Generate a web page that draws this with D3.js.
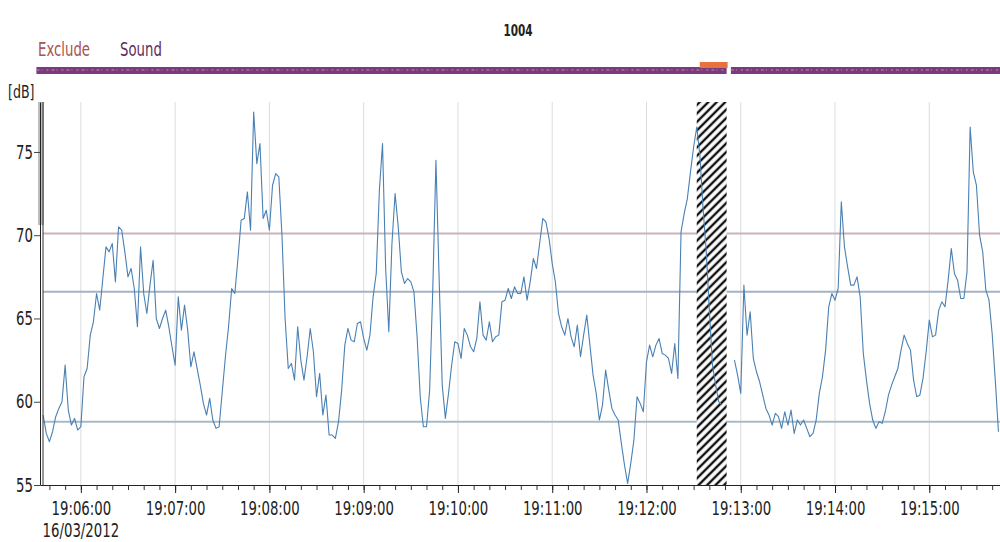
<!DOCTYPE html>
<html>
<head>
<meta charset="utf-8">
<script src="https://cdn.jsdelivr.net/npm/d3@7"></script>
<style>
  body { margin: 0; background: #fff; }
  svg { display: block; }
  text { font-family: "DejaVu Sans", "Liberation Sans", sans-serif; fill: #222; }
</style>
</head>
<body>
<svg id="chart" width="1000" height="542"></svg>
<script>
// Sound level samples [dB], one every 2 s starting at sampleStart; null = no data
const levels = [
  59.2,58.1,57.6,58.2,59.1,59.6,60,62.2,59.5,58.6,
  59,58.3,58.5,61.5,62,64,64.8,66.5,65.5,67.4,
  69.3,69,69.5,67.2,70.5,70.3,69,67.5,68,66.8,
  64.5,69.3,66.5,65.3,67,68.5,65,64.4,65,65.5,
  64.5,63.3,62.2,66.3,64.3,65.8,64.3,62.1,63,62,
  61,59.9,59.2,60.2,58.9,58.4,58.5,60.6,62.7,64.5,
  66.8,66.5,68.6,70.9,71,72.6,70.3,77.4,74.3,75.5,
  71,71.5,70.3,73,73.7,73.5,70,65,62,62.3,
  61.3,64.5,62.5,61.3,62.7,64.4,63,60.3,61.7,59.2,
  60.4,58,58,57.8,58.8,60.7,63.4,64.4,63.7,63.6,
  64.7,64.8,63.8,63.1,64,66.3,67.7,72.7,75.5,68,
  64.2,69.5,72.5,70.5,67.8,67.1,67.4,67.2,66.6,63.9,
  60.3,58.5,58.5,60.7,66.8,74.5,67.5,61,59,60.5,
  62.2,63.6,63.5,62.6,64.4,64,63.3,63,63.8,66,
  64,63.7,64.8,63.6,63.9,64,66,66.1,66.8,66.2,
  66.9,66.5,66.5,67.5,66.1,67.2,68.6,68,69.5,71,
  70.8,69.8,68.3,67.2,65.3,64.5,64,65,63.9,63.3,
  64.6,62.7,64,65.2,63.4,61.6,60.5,58.9,59.8,61.9,
  60.7,59.6,59.2,58.9,57.5,56.2,55.1,56.3,57.7,60.3,
  59.9,59.4,62.4,63.4,62.7,63.4,63.8,62.9,62.8,62.6,
  61.7,63.5,61.4,70.2,71.3,72.2,73.8,75.3,76.5,74.8,
  71.6,69.1,65.5,62.2,61,60,59.8,
  null,null,null,
  62.5,61.6,60.5,67,64,65.4,62.6,61.8,61.2,60.4,
  59.6,59.2,58.6,59.3,59.1,58.4,59.4,58.6,59.5,58.1,
  58.9,58.6,58.9,58.4,57.9,58.1,58.9,60.5,61.5,63.1,
  65.7,66.5,66.1,66.8,72,69.3,68.1,67,67,67.5,
  66.3,62.9,61.3,59.9,58.9,58.4,58.8,58.7,59.4,60.4,
  61,61.5,62,63.1,64,63.5,63.1,61.3,60.3,60.4,
  61.4,63,64.9,63.9,64,65.5,66,65.7,67.3,69.2,
  67.7,67.3,66.2,66.2,67.8,76.5,73.8,73,70,69,
  66.7,66.1,64.1,61.3,58.2
];
const sampleStart = "19:05:36";
const sampleStepSec = 2;

const viewRange = ["19:05:34", "19:15:45"];
const yDomain = [55, 78];
const yTicks = [55, 60, 65, 70, 75];
const xTickLabels = ["19:06:00","19:07:00","19:08:00","19:09:00","19:10:00",
                     "19:11:00","19:12:00","19:13:00","19:14:00","19:15:00"];
const dateLabel = "16/03/2012";
const unitLabel = "[dB]";
const title = "1004";

// Statistical reference levels drawn across the plot
const refLevels = [70.1, 66.6, 58.8];
const refColors = ["#c9b3bf", "#a3b3c4", "#a9bac6"];

// Excluded interval and the sound-coverage bar segments
const excludeSpan = ["19:12:32", "19:12:51"];
const soundSpans = [["19:05:33", "19:12:51"], ["19:12:55", "19:15:46"]];
const legendItems = ["Exclude", "Sound"];
const legendColors = ["#a85450", "#5c2e5e"];

const parse = d3.timeParse("%H:%M:%S");
const t0 = parse(sampleStart);
const series = levels.map((v, i) => ({ t: d3.timeSecond.offset(t0, i * sampleStepSec), v }));

const svg = d3.select("#chart");
const plotL = 40, plotR = 1000, plotT = 102, plotB = 485;

const x = d3.scaleTime().domain(viewRange.map(parse)).range([plotL, plotR]);
const y = d3.scaleLinear().domain(yDomain).range([plotB, plotT]);

const SX = 0.7;   // narrow lettering
function label(sel, px, py, txt, anchor, opts = {}) {
  return sel.append("text")
    .attr("transform", `translate(${px},${py}) scale(${SX},1)`)
    .attr("text-anchor", anchor)
    .style("font-size", (opts.size || 19) + "px")
    .style("font-weight", opts.weight || "normal")
    .style("fill", opts.color || "#222")
    .text(txt);
}

// Title and legend
label(svg, 518, 36, title, "middle", { size: 15, weight: "bold" });
label(svg, 38, 56, legendItems[0], "start", { color: legendColors[0] });
label(svg, 120, 56, legendItems[1], "start", { color: legendColors[1] });

// Coverage bar
const bar = svg.append("g");
soundSpans.forEach(s => {
  const x0 = x(parse(s[0])) - 2, x1 = x(parse(s[1]));
  bar.append("rect").attr("x", x0).attr("y", 67).attr("width", x1 - x0).attr("height", 7)
    .attr("fill", "#7a3b7d");
  bar.append("line").attr("x1", x0).attr("x2", x1).attr("y1", 70).attr("y2", 70)
    .attr("stroke", "#b16fae").attr("stroke-width", 2)
    .attr("stroke-dasharray", "3 2 1 4 2 3").attr("opacity", 0.7);
});
bar.append("rect")
  .attr("x", x(parse(excludeSpan[0])) + 3).attr("y", 62)
  .attr("width", x(parse(excludeSpan[1])) - x(parse(excludeSpan[0])) - 2).attr("height", 6)
  .attr("fill", "#e8713e");

// Unit label
label(svg, 8, 98, unitLabel, "start", { size: 18 });

// Minute gridlines
const majors = xTickLabels.map(parse);
svg.append("g").selectAll("line").data(majors).join("line")
  .attr("x1", d => x(d)).attr("x2", d => x(d))
  .attr("y1", plotT).attr("y2", plotB)
  .attr("stroke", "#dcdcdc").attr("stroke-width", 1);

// Reference level lines
svg.append("g").selectAll("line").data(refLevels).join("line")
  .attr("x1", plotL + 3).attr("x2", plotR)
  .attr("y1", d => y(d)).attr("y2", d => y(d))
  .attr("stroke", (d, i) => refColors[i]).attr("stroke-width", 2);

// Hatched exclusion band
const defs = svg.append("defs");
const pat = defs.append("pattern").attr("id", "hatch")
  .attr("patternUnits", "userSpaceOnUse").attr("width", 6).attr("height", 6)
  .attr("patternTransform", "rotate(45)");
pat.append("rect").attr("width", 6).attr("height", 6).attr("fill", "#fff");
pat.append("line").attr("x1", 3).attr("x2", 3).attr("y1", 0).attr("y2", 6)
  .attr("stroke", "#111").attr("stroke-width", 2.4);
svg.append("rect")
  .attr("x", x(parse(excludeSpan[0]))).attr("y", plotT)
  .attr("width", x(parse(excludeSpan[1])) - x(parse(excludeSpan[0])))
  .attr("height", plotB - plotT)
  .attr("fill", "url(#hatch)");

// Sound level trace
const line = d3.line()
  .defined(d => d.v != null)
  .x(d => x(d.t)).y(d => y(d.v));
svg.append("path").datum(series)
  .attr("d", line)
  .attr("fill", "none")
  .attr("stroke", "#4a80b3")
  .attr("stroke-width", 1.1)
  .attr("stroke-linejoin", "round");

// Left frame: shaded strip and double rule
svg.append("rect").attr("x", 38).attr("y", plotT).attr("width", 6).attr("height", 123)
  .attr("fill", "#bdbdbd");
svg.append("line").attr("x1", 43).attr("x2", 43).attr("y1", plotT).attr("y2", plotB)
  .attr("stroke", "#333").attr("stroke-width", 1);

// Y axis
const yAxis = svg.append("g").attr("transform", `translate(${plotL},0)`)
  .call(d3.axisLeft(y).tickValues(yTicks).tickSize(6).tickPadding(4).tickSizeOuter(0));
yAxis.select(".domain").attr("stroke", "#222");
yAxis.selectAll(".tick line").attr("stroke", "#444");
yAxis.selectAll(".tick text")
  .attr("transform", `scale(${SX},1)`)
  .style("font-size", "19px").style("font-family", "DejaVu Sans, sans-serif")
  .attr("fill", "#222");

// X axis: 10-second minor ticks, labelled minute ticks
const xMinor = svg.append("g").attr("transform", `translate(0,${plotB})`)
  .call(d3.axisBottom(x).ticks(d3.timeSecond.every(10)).tickSize(5).tickFormat("").tickSizeOuter(0));
xMinor.select(".domain").attr("stroke", "#222");
xMinor.selectAll(".tick line").attr("stroke", "#333");

const xAxis = svg.append("g").attr("transform", `translate(0,${plotB})`)
  .call(d3.axisBottom(x).tickValues(majors).tickSize(8).tickPadding(9)
    .tickFormat(d3.timeFormat("%H:%M:%S")).tickSizeOuter(0));
xAxis.select(".domain").remove();
xAxis.selectAll(".tick line").attr("stroke", "#222");
xAxis.selectAll(".tick text")
  .attr("transform", `scale(${SX},1)`)
  .style("font-size", "19px").style("font-family", "DejaVu Sans, sans-serif")
  .attr("fill", "#222");

label(svg, x(majors[0]), 537, dateLabel, "middle");
</script>
</body>
</html>
